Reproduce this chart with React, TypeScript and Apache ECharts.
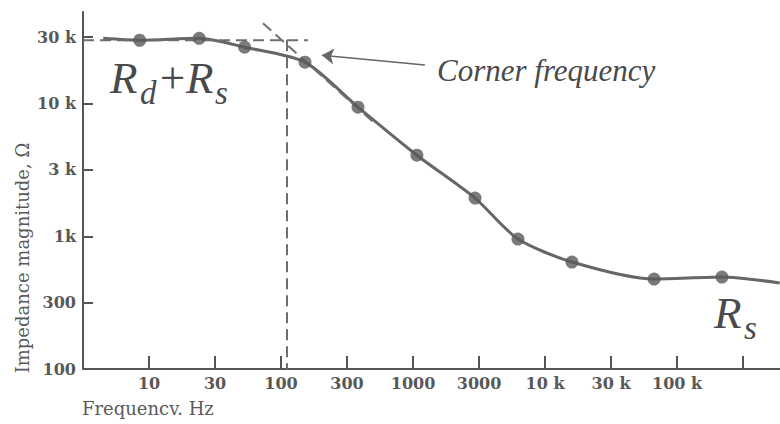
import React, { useEffect, useRef } from 'react';
import * as echarts from 'echarts';

// Measured points (frequency in Hz, impedance magnitude in ohms)
const frequencyHz = [8.5, 24, 53, 152, 383, 1070, 2950, 6240, 16000, 67000, 219000];
const impedanceOhm = [30000, 31000, 26600, 20500, 9400, 4080, 1940, 952, 640, 476, 493];

// Smooth fitted curve through the points
const curveFrequencyHz = [4.5, 8.5, 24, 53, 152, 383, 1070, 2950, 6240, 16000, 67000, 219000, 600000];
const curveImpedanceOhm = [31000, 30000, 31000, 26600, 20500, 9400, 4080, 1940, 952, 640, 476, 493, 445];

// Asymptotes / corner frequency construction
const lowAsymptoteHz = [3.162, 160];
const lowAsymptoteOhm = [30000, 30000];
const cornerLineHz = [111, 111];
const cornerLineOhm = [30000, 100];
const highAsymptoteHz = [73, 520];
const highAsymptoteOhm = [40300, 7000];
const arrowHz = [1230, 204];
const arrowOhm = [19500, 23100];

// Axis ticks (log10 exponents) and their labels
const xTickExponents = [1, 1.5, 2, 2.5, 3, 3.5, 4, 4.5, 5, 5.5];
const xTickLabels = ['10', '30', '100', '300', '1000', '3000', '10 k', '30 k', '100 k', ''];
const yTickExponents = [2, 2.5, 3, 3.5, 4, 4.5];
const yTickLabels = ['100', '300', '1k', '3 k', '10 k', '30 k'];

const lg = (v: number) => Math.log10(v);
const pairs = (xs: number[], ys: number[]) => xs.map((x, i) => [lg(x), lg(ys[i])]);
const lookup = (exps: number[], labels: string[]) => (v: number) => {
  const i = exps.findIndex((e) => Math.abs(e - v) < 1e-6);
  return i >= 0 ? labels[i] : '';
};

const INK = '#555';
const labelFont = { fontFamily: 'DejaVu Serif', fontWeight: 'bold' as const, fontSize: 16, color: '#585858' };
const italic = { fontFamily: 'Liberation Serif', fontStyle: 'italic' as const, fill: '#4a4a4a' };

export default function App() {
  const ref = useRef<HTMLDivElement>(null);
  useEffect(() => {
    if (!ref.current) return;
    const chart = echarts.init(ref.current, undefined, { renderer: 'svg' });
    const dashed = (data: number[][]) => ({
      type: 'line',
      data,
      showSymbol: false,
      silent: true,
      lineStyle: { color: '#6e6e6e', width: 2, type: [11, 6] },
      z: 4,
    });
    chart.setOption({
      animation: false,
      backgroundColor: '#fff',
      grid: { left: 83, top: 12, right: 0, bottom: 55, containLabel: false, outerBoundsMode: 'none' },
      xAxis: {
        type: 'value',
        min: 0.5,
        max: 5.78,
        interval: 0.5,
        splitLine: { show: false },
        axisLine: { lineStyle: { color: INK, width: 2 } },
        axisTick: { inside: true, length: 13, lineStyle: { color: INK, width: 2 }, customValues: xTickExponents },
        axisLabel: { ...labelFont, margin: 6, customValues: xTickExponents, formatter: lookup(xTickExponents, xTickLabels) },
      },
      yAxis: {
        type: 'value',
        min: 2,
        max: 4.69,
        interval: 0.5,
        splitLine: { show: false },
        axisLine: { lineStyle: { color: INK, width: 2 } },
        axisTick: { inside: true, length: 10, lineStyle: { color: INK, width: 2 }, customValues: yTickExponents },
        axisLabel: { ...labelFont, margin: 7, customValues: yTickExponents, formatter: lookup(yTickExponents, yTickLabels) },
      },
      series: [
        {
          type: 'line',
          data: pairs(curveFrequencyHz, curveImpedanceOhm),
          smooth: 0.25,
          showSymbol: false,
          silent: true,
          lineStyle: { color: '#666', width: 3 },
          z: 3,
        },
        dashed(pairs(lowAsymptoteHz, lowAsymptoteOhm)),
        dashed(pairs(cornerLineHz, cornerLineOhm)),
        dashed(pairs(highAsymptoteHz, highAsymptoteOhm)),
        {
          type: 'scatter',
          data: pairs(frequencyHz, impedanceOhm),
          symbolSize: 13,
          silent: true,
          itemStyle: { color: '#5a5a5a' },
          z: 5,
          markLine: {
            silent: true,
            symbol: ['none', 'arrow'],
            symbolSize: 12,
            label: { show: false },
            lineStyle: { color: '#666', width: 1.5, type: 'solid' },
            data: [[{ coord: [lg(arrowHz[0]), lg(arrowOhm[0])] }, { coord: [lg(arrowHz[1]), lg(arrowOhm[1])] }]],
          },
        },
      ],
      graphic: [
        {
          type: 'text',
          x: 22,
          y: 258,
          rotation: Math.PI / 2,
          style: { text: 'Impedance magnitude, Ω', fontFamily: 'DejaVu Serif', fontSize: 18, fill: '#5a5a5a', align: 'center', verticalAlign: 'middle' },
        },
        {
          type: 'text',
          x: 82,
          y: 408,
          style: { text: 'Frequencv. Hz', fontFamily: 'DejaVu Serif', fontSize: 18, fill: '#5a5a5a', align: 'left', verticalAlign: 'middle' },
        },
        {
          type: 'text',
          x: 437,
          y: 70,
          style: { text: 'Corner frequency', ...italic, fontSize: 31, align: 'left', verticalAlign: 'middle' },
        },
        { type: 'text', x: 110, y: 78, style: { text: 'R', ...italic, fontSize: 45, verticalAlign: 'middle' } },
        { type: 'text', x: 140, y: 93, style: { text: 'd', ...italic, fontSize: 33, verticalAlign: 'middle' } },
        { type: 'text', x: 157, y: 78, style: { text: '+', ...italic, fontSize: 45, verticalAlign: 'middle' } },
        { type: 'text', x: 186, y: 78, style: { text: 'R', ...italic, fontSize: 45, verticalAlign: 'middle' } },
        { type: 'text', x: 215, y: 93, style: { text: 's', ...italic, fontSize: 33, verticalAlign: 'middle' } },
        { type: 'text', x: 714, y: 313, style: { text: 'R', ...italic, fontSize: 45, verticalAlign: 'middle' } },
        { type: 'text', x: 744, y: 328, style: { text: 's', ...italic, fontSize: 33, verticalAlign: 'middle' } },
      ],
    });
    return () => chart.dispose();
  }, []);
  return <div ref={ref} style={{ position: 'fixed', left: 0, top: 0, width: 780, height: 424, background: '#fff' }} />;
}
